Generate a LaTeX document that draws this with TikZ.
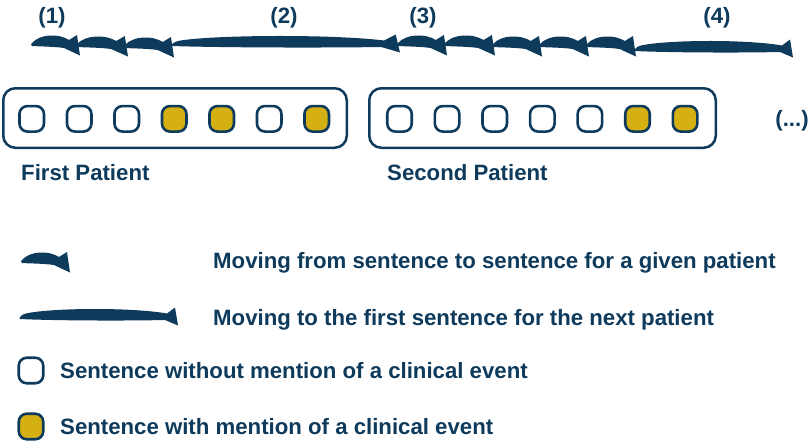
\documentclass[tikz,border=0pt]{standalone}
\usepackage{fontspec}
\setmainfont{Liberation Sans}
\definecolor{navy}{HTML}{0E3A5C}
\definecolor{gold}{HTML}{D4B013}
\newcommand{\shortarr}[3]{%
  \fill[navy, shift={(#1,#3)}, xscale=#2/48] (0,0) .. controls (-1.5,-0.5) and (-1,-2.5) .. (0,-3)
    .. controls (8,-12) and (26,-13) .. (37,-6) -- (45,-11) -- (48,9.5) -- (32,2)
    .. controls (22,0.5) and (8,0.5) .. (0,0) -- cycle;}
\newcommand{\longarr}[3]{%
  \fill[navy, shift={(#1,#3)}, xscale=#2/158] (0,0) .. controls (-1.5,-0.5) and (1,-4.5) .. (6,-5.5)
    .. controls (30,-11) and (110,-12) .. (147,-5.5) -- (155,-11.5) -- (158,6.5) -- (145,1)
    .. controls (100,2) and (30,1.5) .. (0,0) -- cycle;}
\begin{document}
\begin{tikzpicture}[x={(1pt,0)}, y={(0,-1pt)},
  txt/.style={inner sep=0pt, text=navy, font=\fontsize{22.2}{24}\selectfont\bfseries},
  sent/.style={draw=navy, line width=2.6pt, rounded corners=8pt, minimum width=24.5pt, minimum height=25.5pt, inner sep=0pt, fill=white},
  ment/.style={sent, fill=gold},
  patient/.style={draw=navy, line width=2.5pt, rounded corners=12pt, inner sep=0pt}]
\useasboundingbox (0,0) rectangle (812,445);
% top labels
\node[txt, anchor=base] (l1) at (52,23) {(1)};
\node[txt, anchor=base] (l2) at (284,23) {(2)};
\node[txt, anchor=base] (l3) at (423,23) {(3)};
\node[txt, anchor=base] (l4) at (717,23) {(4)};
% top arrows
\shortarr{32}{48}{46}
\shortarr{77}{51}{47}
\shortarr{125}{49}{48}
\longarr{172}{228}{46}
\shortarr{398}{49}{46}
\shortarr{445}{50}{46}
\shortarr{493}{49}{47}
\shortarr{540}{49}{47}
\shortarr{587}{49}{47}
\longarr{635}{158}{51}
% patient boxes
\node[patient, minimum width=343.5pt, minimum height=59.5pt] (p1) at (175,118) {};
\node[patient, minimum width=346.5pt, minimum height=59.5pt] (p2) at (542.5,118) {};
% sentences
\node[sent] (s11) at (31.7,118.8) {};
\node[sent] (s12) at (79.2,118.8) {};
\node[sent] (s13) at (126.7,118.8) {};
\node[ment] (s14) at (174.2,118.8) {};
\node[ment] (s15) at (221.7,118.8) {};
\node[sent] (s16) at (269.2,118.8) {};
\node[ment] (s17) at (316.7,118.8) {};
\node[sent] (s21) at (399.5,118.8) {};
\node[sent] (s22) at (447.1,118.8) {};
\node[sent] (s23) at (494.7,118.8) {};
\node[sent] (s24) at (542.3,118.8) {};
\node[sent] (s25) at (589.9,118.8) {};
\node[ment] (s26) at (637.5,118.8) {};
\node[ment] (s27) at (685.1,118.8) {};
\node[txt, anchor=base] (more) at (792,126) {(...)};
\node[txt, anchor=base west] (n1) at (21,180) {First Patient};
\node[txt, anchor=base west] (n2) at (387,180) {Second Patient};
% legend
\shortarr{22}{48}{263}
\node[txt, anchor=base west] (t1) at (213,268) {Moving from sentence to sentence for a given patient};
\longarr{20}{158}{319}
\node[txt, anchor=base west] (t2) at (213,325) {Moving to the first sentence for the next patient};
\node[sent] (k1) at (31,370.5) {};
\node[txt, anchor=base west] (t3) at (60,378) {Sentence without mention of a clinical event};
\node[ment] (k2) at (31,426.5) {};
\node[txt, anchor=base west] (t4) at (60,434) {Sentence with mention of a clinical event};
\end{tikzpicture}
\end{document}
